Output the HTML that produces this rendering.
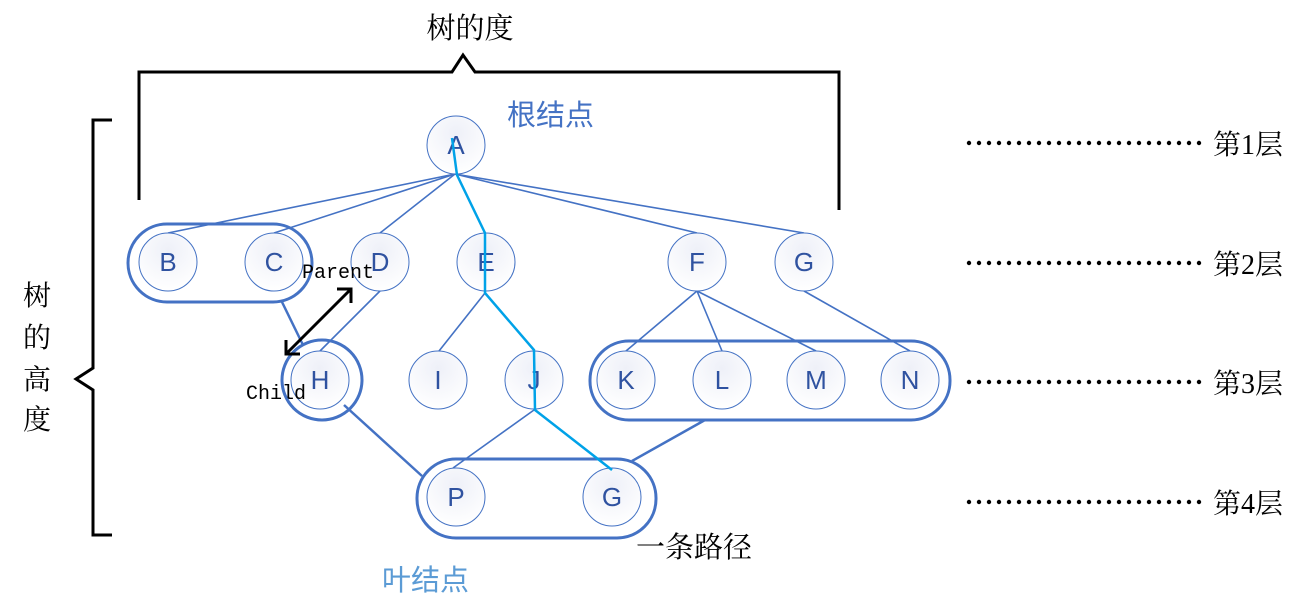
<!DOCTYPE html>
<html><head><meta charset="utf-8"><style>
html,body{margin:0;padding:0;background:#fff;width:1306px;height:609px;overflow:hidden}
svg{display:block}
.cj{font-family:"Liberation Serif","Noto Serif CJK SC",serif}
.ls{font-family:"Liberation Sans","Noto Sans CJK SC",sans-serif}
</style></head><body>
<svg width="1306" height="609" viewBox="0 0 1306 609" xmlns="http://www.w3.org/2000/svg">
<defs>
<radialGradient id="g" cx="0.5" cy="0.3" r="0.7"><stop offset="0" stop-color="#eef0f8"/><stop offset="1" stop-color="#ffffff"/></radialGradient>
</defs>
<!-- brackets -->
<path d="M139,200 V72 H452 L463,55 L475,72 H839 V210" fill="none" stroke="#000" stroke-width="3"/>
<path d="M112,120 H93 V368 L76,379 L93,390 V535 H112" fill="none" stroke="#000" stroke-width="3"/>
<text x="470" y="38" class="cj" font-size="29" text-anchor="middle">树的度</text>
<g class="cj" font-size="28" text-anchor="middle">
<text x="37" y="305">树</text><text x="37" y="347">的</text><text x="37" y="389">高</text><text x="37" y="429">度</text>
</g>
<!-- edges -->
<g stroke="#4472c4" stroke-width="1.6" fill="none">
<line x1="455" y1="174" x2="168" y2="233"/>
<line x1="455" y1="174" x2="274" y2="233"/>
<line x1="455" y1="174" x2="380" y2="233"/>
<line x1="455" y1="174" x2="697" y2="233"/>
<line x1="455" y1="174" x2="804" y2="233"/>
<line x1="485" y1="293" x2="439" y2="351"/>
<line x1="534" y1="410" x2="453" y2="468"/>
<line x1="380" y1="291" x2="320" y2="351"/>
<line x1="697" y1="291" x2="626" y2="351"/>
<line x1="697" y1="291" x2="722" y2="351"/>
<line x1="697" y1="291" x2="816" y2="351"/>
<line x1="804" y1="291" x2="910" y2="351"/>
</g>
<g stroke="#4472c4" stroke-width="2.5" fill="none">
<line x1="282" y1="302" x2="303" y2="345"/>
<line x1="344" y1="405" x2="422" y2="476"/>
<line x1="705" y1="420" x2="632" y2="461"/>
</g>
<!-- nodes -->
<g stroke="#4472c4" stroke-width="1" fill="url(#g)">
<circle cx="456" cy="145" r="29"/>
<circle cx="168" cy="262" r="29"/><circle cx="274" cy="262" r="29"/><circle cx="380" cy="262" r="29"/><circle cx="486" cy="262" r="29"/><circle cx="697" cy="262" r="29"/><circle cx="804" cy="262" r="29"/>
<circle cx="320" cy="380" r="29"/><circle cx="438" cy="380" r="29"/><circle cx="534" cy="380" r="29"/><circle cx="626" cy="380" r="29"/><circle cx="722" cy="380" r="29"/><circle cx="816" cy="380" r="29"/><circle cx="910" cy="380" r="29"/>
<circle cx="456" cy="497" r="29"/><circle cx="612" cy="497" r="29"/>
</g>
<g class="ls" font-size="26" fill="#2f52a0" text-anchor="middle">
<text x="456" y="154">A</text>
<text x="168" y="271">B</text><text x="274" y="271">C</text><text x="380" y="271">D</text><text x="486" y="271">E</text><text x="697" y="271">F</text><text x="804" y="271">G</text>
<text x="320" y="389">H</text><text x="438" y="389">I</text><text x="534" y="389">J</text><text x="626" y="389">K</text><text x="722" y="389">L</text><text x="816" y="389">M</text><text x="910" y="389">N</text>
<text x="456" y="506">P</text><text x="612" y="506">G</text>
</g>
<!-- groups -->
<g stroke="#4472c4" stroke-width="3" fill="none">
<rect x="128" y="224" width="184" height="78" rx="39"/>
<circle cx="322" cy="380" r="40"/>
<rect x="590" y="341" width="360" height="79" rx="39"/>
<rect x="417" y="459" width="239" height="79" rx="39"/>
</g>
<!-- path -->
<polyline points="452,138 457,175 485,233 485,293 534,350 535,410 612,470" fill="none" stroke="#00a2e8" stroke-width="2.5"/>
<!-- arrow -->
<g stroke="#000" stroke-width="3" fill="none">
<line x1="286" y1="354" x2="351" y2="289"/>
<polyline points="337,289 351,289 351,303"/>
<polyline points="286,340 286,354 300,354"/>
</g>
<text x="302" y="278" font-family="Liberation Mono,monospace" font-size="20">Parent</text>
<text x="246" y="399" font-family="Liberation Mono,monospace" font-size="20">Child</text>
<text x="507" y="125" class="ls" font-size="29" fill="#4472c4">根结点</text>
<text x="382" y="590" class="ls" font-size="29" fill="#5b9bd5">叶结点</text>
<text x="636" y="557" class="cj" font-size="29">一条路径</text>
<!-- levels -->
<g fill="#000">
<g id="d"><circle cx="969" cy="143" r="2.2"/><circle cx="979" cy="143" r="2.2"/><circle cx="989" cy="143" r="2.2"/><circle cx="999" cy="143" r="2.2"/><circle cx="1009" cy="143" r="2.2"/><circle cx="1019" cy="143" r="2.2"/><circle cx="1029" cy="143" r="2.2"/><circle cx="1039" cy="143" r="2.2"/><circle cx="1049" cy="143" r="2.2"/><circle cx="1059" cy="143" r="2.2"/><circle cx="1069" cy="143" r="2.2"/><circle cx="1079" cy="143" r="2.2"/><circle cx="1089" cy="143" r="2.2"/><circle cx="1099" cy="143" r="2.2"/><circle cx="1109" cy="143" r="2.2"/><circle cx="1119" cy="143" r="2.2"/><circle cx="1129" cy="143" r="2.2"/><circle cx="1139" cy="143" r="2.2"/><circle cx="1149" cy="143" r="2.2"/><circle cx="1159" cy="143" r="2.2"/><circle cx="1169" cy="143" r="2.2"/><circle cx="1179" cy="143" r="2.2"/><circle cx="1189" cy="143" r="2.2"/><circle cx="1199" cy="143" r="2.2"/></g>
<use href="#d" y="120"/><use href="#d" y="239"/><use href="#d" y="359"/>
</g>
<g class="cj" font-size="28">
<text x="1213" y="154">第1层</text><text x="1213" y="274">第2层</text><text x="1213" y="393">第3层</text><text x="1213" y="513">第4层</text>
</g>
</svg>
</body></html>
